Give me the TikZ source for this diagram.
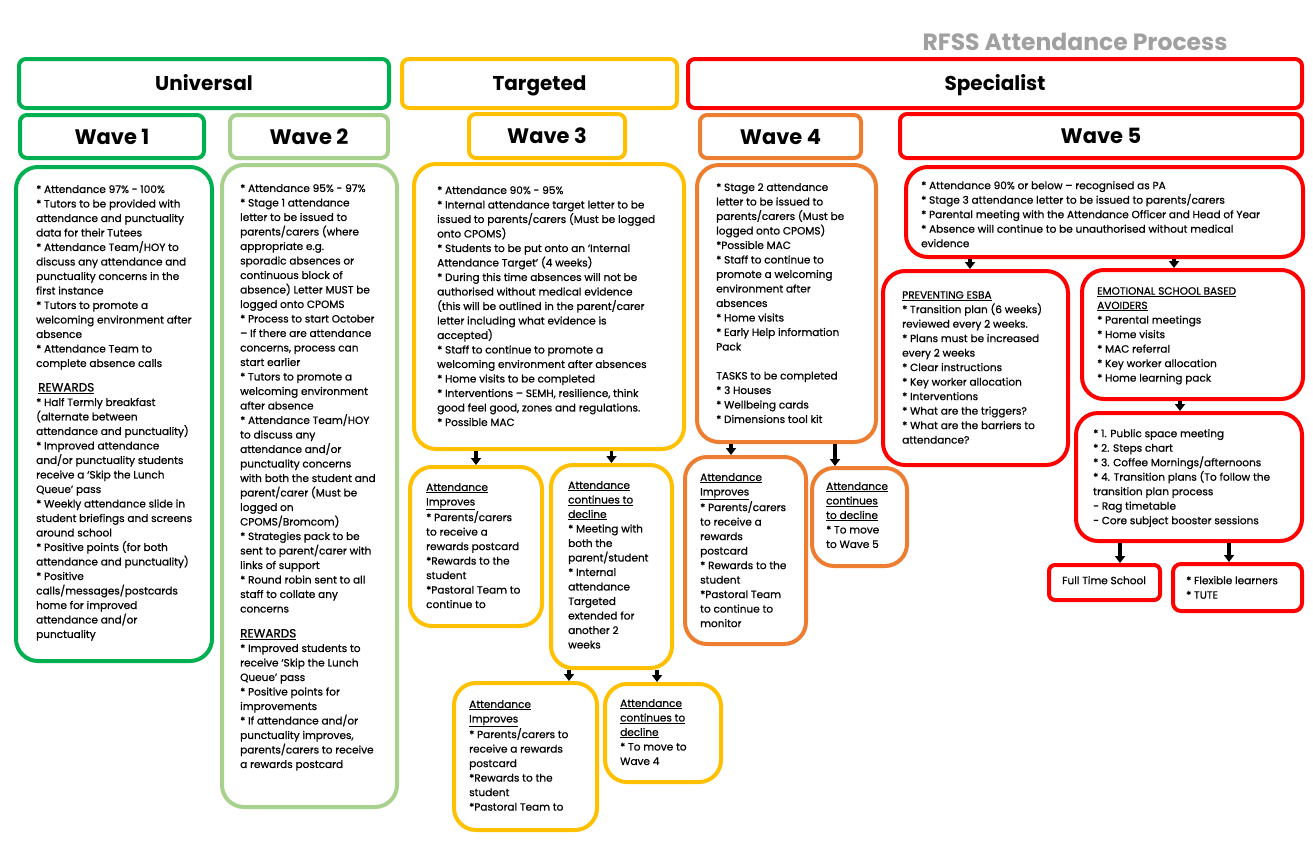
\documentclass[tikz,border=0pt]{standalone}
\usepackage{fontspec}
\setmainfont{Poppins}
\newfontfamily\bodyf{Poppins}[FakeBold=0.6]
\usetikzlibrary{arrows.meta}
\definecolor{cgreen}{RGB}{0,176,80}
\definecolor{lgreen}{RGB}{169,209,142}
\definecolor{cyellow}{RGB}{255,192,0}
\definecolor{corange}{RGB}{237,125,49}
\definecolor{cred}{RGB}{255,0,0}
\definecolor{ttlgray}{RGB}{160,160,160}
\newcommand{\rwhead}{{\fontsize{12}{14}\selectfont\underline{REWARDS}}}

\begin{document}
\begin{tikzpicture}[x=1pt,y=-1pt,
		box/.style={draw=#1, line width=4pt, rounded corners=22pt, inner sep=0pt},
		hbox/.style={box=#1, rounded corners=7pt, text height=14pt, text depth=1pt, font=\bfseries\fontsize{20}{22}\selectfont},
		wbox/.style={box=#1, rounded corners=7pt, text height=15pt, text depth=0pt, font=\bfseries\fontsize{21}{24}\selectfont},
		txt/.style={anchor=north west, align=left, inner sep=0pt, font=\bodyf\fontsize{10.5}{14.5}\selectfont},
		arr/.style={-{Triangle[width=10pt,length=7pt]}, line width=3.5pt}]
		\fill[white] (0,0) rectangle (1313,846);
		
		\node[font=\bfseries\fontsize{23.5}{26}\selectfont, text=ttlgray] (title) at (1075,42) {RFSS Attendance Process};
		
		% top headers
		\node[hbox=cgreen, minimum width=370, minimum height=49] (uni) at (204,83.5) {Universal};
		\node[hbox=cyellow, minimum width=275, minimum height=49] (tgt) at (539.5,83.5) {Targeted};
		\node[hbox=cred, minimum width=614, minimum height=49] (spec) at (995,83.5) {Specialist};
		
		\node[wbox=cgreen, minimum width=184, minimum height=43] (wv1) at (112,136.5) {Wave 1};
		\node[wbox=lgreen, minimum width=158, minimum height=43] (wv2) at (309,136.5) {Wave 2};
		\node[wbox=cyellow, minimum width=156, minimum height=44] (wv3) at (547,136) {Wave 3};
		\node[wbox=corange, minimum width=161, minimum height=43] (wv4) at (780.5,136.5) {Wave 4};
		\node[wbox=cred, minimum width=402, minimum height=44] (wv5) at (1101,136) {Wave 5};
		
		% main boxes
		\node[box=cgreen, minimum width=196, minimum height=494] (b1) at (114,414) {};
		\node[box=lgreen, minimum width=175, minimum height=642] (b2) at (309.5,486) {};
		\node[box=cyellow, minimum width=270, minimum height=285] (b3) at (549,306.5) {};
		\node[box=corange, minimum width=179, minimum height=277] (b4) at (786.5,303.5) {};
		\node[box=cred, minimum width=397, minimum height=90] (b5) at (1104.5,212) {};
		
		% wave 3 and 4 outcomes
		\node[box=cyellow, minimum width=132, minimum height=159] (i3) at (476,546.5) {};
		\node[box=cyellow, minimum width=121, minimum height=203] (d3) at (611.5,566.5) {};
		\node[box=cyellow, minimum width=143, minimum height=147] (i3b) at (525.5,756.5) {};
		\node[box=cyellow, minimum width=116, minimum height=98] (d3b) at (663,733) {};
		\node[box=corange, minimum width=121, minimum height=187] (i4) at (745.5,550.5) {};
		\node[box=corange, minimum width=95, minimum height=98] (d4) at (859.5,517) {};
		
		% wave 5 branches
		\node[box=cred, minimum width=185, minimum height=194] (esba) at (975.5,368) {};
		\node[box=cred, minimum width=221, minimum height=129] (avoid) at (1192.5,334.5) {};
		\node[box=cred, minimum width=226, minimum height=128] (steps) at (1189,477) {};
		\node[box=cred, rounded corners=6pt, minimum width=111, minimum height=35] (fts) at (1104.5,582.5) {};
		\node[box=cred, rounded corners=8pt, minimum width=129, minimum height=47] (flex) at (1237.5,587.5) {};
		
		\draw[arr] (b3.south -| i3.north) -- (i3.north);
		\draw[arr] (b3.south -| d3.north) -- (d3.north);
		\draw[arr] (d3.south -| 569,0) -- (i3b.north -| 569,0);
		\draw[arr] (d3.south -| 657,0) -- (d3b.north -| 657,0);
		\draw[arr] (b4.south -| 731,0) -- (i4.north -| 731,0);
		\draw[arr] (b4.south -| 835,0) -- (d4.north -| 835,0);
		\draw[arr] (b5.south -| 970,0) -- (esba.north -| 970,0);
		\draw[arr] (b5.south -| 1174,0) -- (avoid.north -| 1174,0);
		\draw[arr] (avoid.south -| 1180,0) -- (steps.north -| 1180,0);
		\draw[arr] (steps.south -| 1120,0) -- (fts.north -| 1120,0);
		\draw[arr] (steps.south -| 1229,0) -- (flex.north -| 1229,0);
		
		% texts
		\node[txt] (t1) at (36,185) {* Attendance 97\% - 100\%\\
			* Tutors to be provided with\\
			attendance and punctuality\\
			data for their Tutees\\
			* Attendance Team/HOY to\\
			discuss any attendance and\\
			punctuality concerns in the\\
			first instance\\
			* Tutors to promote a\\
			welcoming environment after\\
			absence\\
			* Attendance Team to\\
			complete absence calls\\[10pt]
			\hspace{2pt}\rwhead\\
			* Half Termly breakfast\\
			(alternate between\\
			attendance and punctuality)\\
			* Improved attendance\\
			and/or punctuality students\\
			receive a ‘Skip the Lunch\\
			Queue’ pass\\
			* Weekly attendance slide in\\
			student briefings and screens\\
			around school\\
			* Positive points (for both\\
			attendance and punctuality)\\
			* Positive\\
			calls/messages/postcards\\
			home for improved\\
			attendance and/or\\
			punctuality};
		
		\node[txt] (t2) at (240,184) {* Attendance 95\% - 97\%\\
			* Stage 1 attendance\\
			letter to be issued to\\
			parents/carers (where\\
			appropriate e.g.\\
			sporadic absences or\\
			continuous block of\\
			absence) Letter MUST be\\
			logged onto CPOMS\\
			* Process to start October\\
			– If there are attendance\\
			concerns, process can\\
			start earlier\\
			* Tutors to promote a\\
			welcoming environment\\
			after absence\\
			* Attendance Team/HOY\\
			to discuss any\\
			attendance and/or\\
			punctuality concerns\\
			with both the student and\\
			parent/carer (Must be\\
			logged on\\
			CPOMS/Bromcom)\\
			* Strategies pack to be\\
			sent to parent/carer with\\
			links of support\\
			* Round robin sent to all\\
			staff to collate any\\
			concerns\\[10.5pt]
			\rwhead\\
			* Improved students to\\
			receive ‘Skip the Lunch\\
			Queue’ pass\\
			* Positive points for\\
			improvements\\
			* If attendance and/or\\
			punctuality improves,\\
			parents/carers to receive\\
			a rewards postcard};
		
		\node[txt] (t3) at (437,186) {* Attendance 90\% - 95\%\\
			* Internal attendance target letter to be\\
			issued to parents/carers (Must be logged\\
			onto CPOMS)\\
			* Students to be put onto an ‘Internal\\
			Attendance Target’ (4 weeks)\\
			* During this time absences will not be\\
			authorised without medical evidence\\
			(this will be outlined in the parent/carer\\
			letter including what evidence is\\
			accepted)\\
			* Staff to continue to promote a\\
			welcoming environment after absences\\
			* Home visits to be completed\\
			* Interventions – SEMH, resilience, think\\
			good feel good, zones and regulations.\\
			* Possible MAC};
		
		\node[txt] (t4) at (716,183) {* Stage 2 attendance\\
			letter to be issued to\\
			parents/carers (Must be\\
			logged onto CPOMS)\\
			*Possible MAC\\
			* Staff to continue to\\
			promote a welcoming\\
			environment after\\
			absences\\
			* Home visits\\
			* Early Help information\\
			Pack\\
			\\
			TASKS to be completed\\
			* 3 Houses\\
			* Wellbeing cards\\
			* Dimensions tool kit};
		
		\node[txt] (t5) at (921,181) {* Attendance 90\% or below – recognised as PA\\
			* Stage 3 attendance letter to be issued to parents/carers\\
			* Parental meeting with the Attendance Officer and Head of Year\\
			* Absence will continue to be unauthorised without medical\\
			evidence};
		
		\node[txt] (ti3) at (426,483) {\underline{Attendance}\\
			\underline{Improves}\\
			* Parents/carers\\
			to receive a\\
			rewards postcard\\
			*Rewards to the\\
			student\\
			*Pastoral Team to\\
			continue to};
		
		\node[txt] (td3) at (568,481) {\underline{Attendance}\\
			\underline{continues to}\\
			\underline{decline}\\
			* Meeting with\\
			both the\\
			parent/student\\
			* Internal\\
			attendance\\
			Targeted\\
			extended for\\
			another 2\\
			weeks};
		
		\node[txt] (ti3b) at (469,700) {\underline{Attendance}\\
			\underline{Improves}\\
			* Parents/carers to\\
			receive a rewards\\
			postcard\\
			*Rewards to the\\
			student\\
			*Pastoral Team to};
		
		\node[txt] (td3b) at (620,699) {\underline{Attendance}\\
			\underline{continues to}\\
			\underline{decline}\\
			* To move to\\
			Wave 4};
		
		\node[txt] (ti4) at (700,473) {\underline{Attendance}\\
			\underline{Improves}\\
			* Parents/carers\\
			to receive a\\
			rewards\\
			postcard\\
			* Rewards to the\\
			student\\
			*Pastoral Team\\
			to continue to\\
			monitor};
		
		\node[txt] (td4) at (826,482) {\underline{Attendance}\\
			\underline{continues}\\
			\underline{to decline}\\
			* To move\\
			to Wave 5};
		
		\node[txt] (tesba) at (902,291) {\underline{PREVENTING ESBA}\\
			* Transition plan (6 weeks)\\
			reviewed every 2 weeks.\\
			* Plans must be increased\\
			every 2 weeks\\
			* Clear instructions\\
			* Key worker allocation\\
			* Interventions\\
			* What are the triggers?\\
			* What are the barriers to\\
			attendance?};
		
		\node[txt] (tavoid) at (1097,287) {\underline{EMOTIONAL SCHOOL BASED}\\
			\underline{AVOIDERS}\\
			* Parental meetings\\
			* Home visits\\
			* MAC referral\\
			* Key worker allocation\\
			* Home learning pack};
		
		\node[txt] (tsteps) at (1093,429) {* 1. Public space meeting\\
			* 2. Steps chart\\
			* 3. Coffee Mornings/afternoons\\
			* 4. Transition plans (To follow the\\
			transition plan process\\
			- Rag timetable\\
			- Core subject booster sessions};
		
		\node[txt] (tfts) at (1062,576) {Full Time School};
		\node[txt] (tflex) at (1186,576) {* Flexible learners\\
			* TUTE};
	\end{tikzpicture}
\end{document}
